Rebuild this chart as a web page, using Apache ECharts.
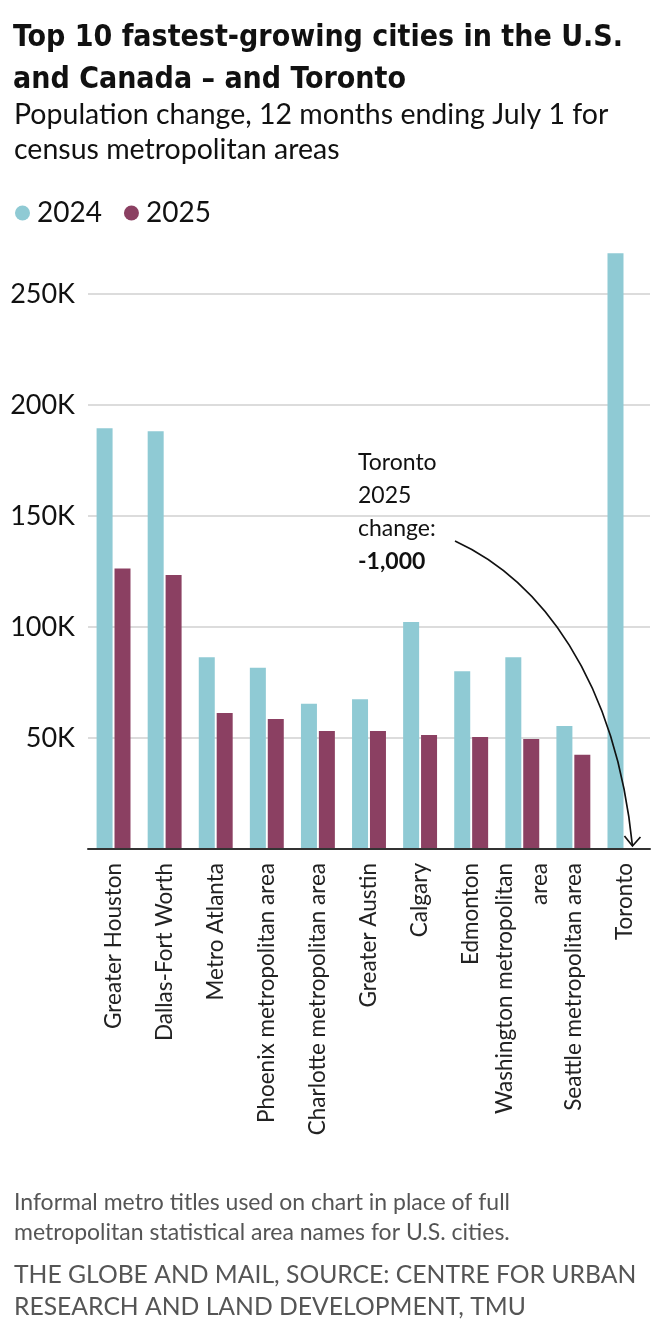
<!DOCTYPE html>
<html>
<head>
<meta charset="utf-8">
<script src="https://cdn.jsdelivr.net/npm/echarts@6/dist/echarts.min.js"></script>
<style>
  html, body { margin: 0; padding: 0; background: #fff; }
  #chart { width: 660px; height: 1328px; }
</style>
</head>
<body>
<div id="chart"></div>
<script>
// categories and values
var cities = ['Greater Houston', 'Dallas-Fort Worth', 'Metro Atlanta', 'Phoenix metropolitan area',
  'Charlotte metropolitan area', 'Greater Austin', 'Calgary', 'Edmonton',
  'Washington metropolitan\narea', 'Seattle metropolitan area', 'Toronto'];
var pop2024 = [189500, 188200, 86400, 81600, 65400, 67500, 102200, 80100, 86400, 55400, 268300];
var pop2025 = [126400, 123400, 61300, 58600, 53100, 53100, 51300, 50400, 49500, 42400, -1000];
var yTicks = [0, 50000, 100000, 150000, 200000, 250000];

var teal = '#8fcad4';
var plum = '#8b4062';
var font = 'Lato, "Noto Sans", sans-serif';

var myChart = echarts.init(document.getElementById('chart'));

var option = {
    backgroundColor: '#fff',
    animation: false,
    title: [{
        text: 'Top 10 fastest-growing cities in the U.S.\nand Canada \u2013 and Toronto',
        left: 8, top: 12,
        textStyle: {fontFamily: '"DejaVu Sans Condensed", "DejaVu Sans", sans-serif',
            fontWeight: 'bold', fontSize: 30, lineHeight: 42, color: '#111'}
    }, {
        text: 'Population change, 12 months ending July 1 for\ncensus metropolitan areas',
        left: 9, top: 92,
        textStyle: {fontFamily: font, fontWeight: 'normal', fontSize: 28.5, lineHeight: 35, color: '#111'}
    }, {
        text: 'Informal metro titles used on chart in place of full\nmetropolitan statistical area names for U.S. cities.',
        left: 9, top: 1183,
        textStyle: {fontFamily: font, fontWeight: 'normal', fontSize: 23, lineHeight: 30, color: '#555'}
    }, {
        text: 'THE GLOBE AND MAIL, SOURCE: CENTRE FOR URBAN\nRESEARCH AND LAND DEVELOPMENT, TMU',
        left: 9, top: 1254,
        textStyle: {fontFamily: font, fontWeight: 'normal', fontSize: 24.7, lineHeight: 32, color: '#555'}
    }],
    legend: {
        left: 10, top: 194,
        icon: 'circle',
        itemWidth: 15, itemHeight: 15, itemGap: 22,
        textStyle: {fontFamily: font, fontSize: 28, color: '#111', padding: [0, 0, 0, 2]},
        selectedMode: false,
        data: ['2024', '2025']
    },
    grid: {left: 88, right: 10, top: 238.5, bottom: 479, containLabel: false},
    xAxis: {
        type: 'category',
        data: cities,
        axisLine: {show: true, lineStyle: {color: '#333', width: 2}},
        axisTick: {show: false},
        axisLabel: {
            interval: 0, rotate: 90, margin: 14,
            fontFamily: font, fontSize: 22.5, lineHeight: 35, color: '#222'
        },
        z: 5
    },
    yAxis: {
        type: 'value',
        min: 0, max: 275000, interval: 50000,
        axisLine: {show: false},
        axisTick: {show: false},
        splitLine: {show: true, showMaxLine: false, lineStyle: {color: '#d0d0d0', width: 1.5}},
        axisLabel: {
            showMinLabel: false, showMaxLabel: false, margin: 13,
            fontFamily: font, fontSize: 27, color: '#111',
            formatter: function (v) {
                return yTicks.indexOf(v) > 0 ? (v / 1000) + 'K' : '';
            }
        }
    },
    series: [{
        name: '2024',
        type: 'bar',
        barWidth: 16,
        barGap: '12%',
        itemStyle: {color: teal},
        data: pop2024
    }, {
        name: '2025',
        type: 'bar',
        barWidth: 16,
        itemStyle: {color: plum},
        data: pop2025
    }],
    graphic: [{
        id: 'note',
        type: 'text',
        left: 358, top: 446,
        style: {
            text: 'Toronto\n2025\nchange:\n{b|-1,000}',
            font: '23px ' + font,
            fill: '#111',
            lineHeight: 33,
            rich: {b: {fontWeight: 'bold', fontSize: 23, fontFamily: font, lineHeight: 33}}
        }
    }]
};

myChart.setOption(option);

// arrow from the note down to Toronto's 2025 bar at zero
var tip = myChart.convertToPixel({xAxisIndex: 0, yAxisIndex: 0}, [cities.length - 1, 0]);
var tx = tip[0] + 8, ty = tip[1] - 3;
myChart.setOption({
    graphic: [{
        id: 'arrow',
        type: 'bezierCurve',
        shape: {x1: 455, y1: 541, cpx1: 540, cpy1: 580, cpx2: tx - 17, cpy2: ty - 168, x2: tx, y2: ty},
        style: {stroke: '#111', lineWidth: 1.7, fill: null},
        z: 10
    }, {
        id: 'arrowhead',
        type: 'polyline',
        shape: {points: [[tx - 8, ty - 10], [tx, ty], [tx + 8, ty - 9]]},
        style: {stroke: '#111', lineWidth: 1.7, fill: null},
        z: 10
    }]
});
</script>
</body>
</html>
